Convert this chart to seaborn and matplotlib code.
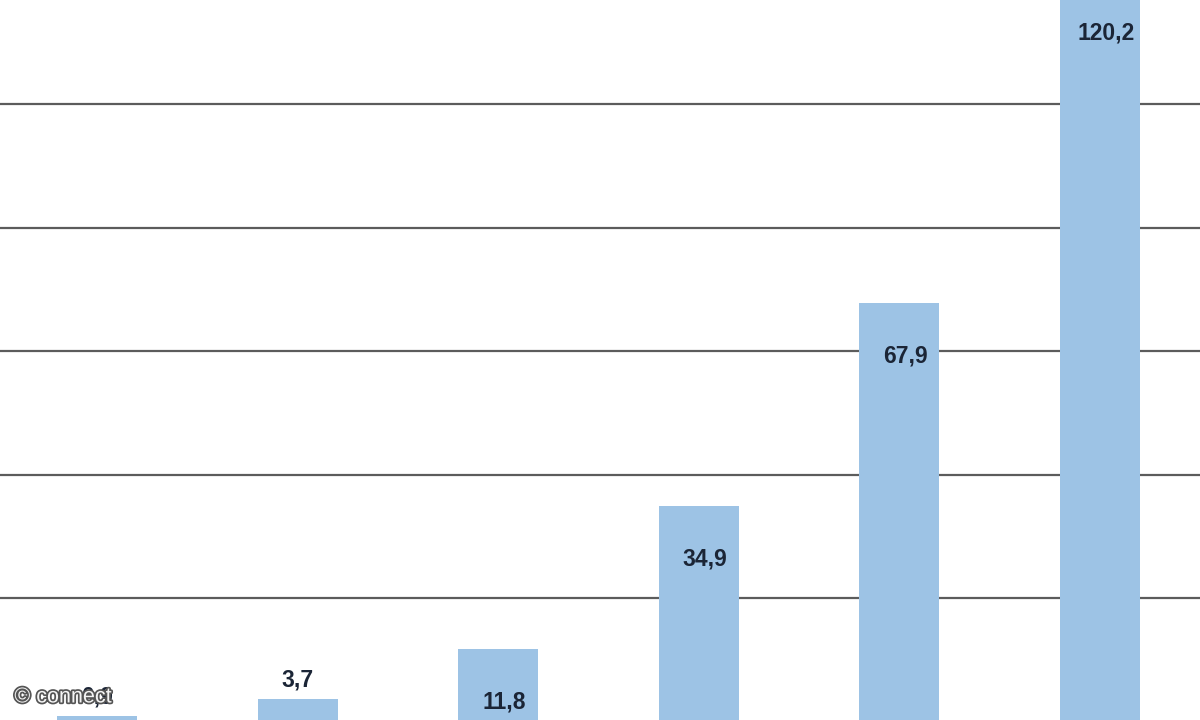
import matplotlib
matplotlib.use("Agg")
import matplotlib.pyplot as plt
import matplotlib.patheffects as pe
import seaborn as sns
import pandas as pd

categories = ["1", "2", "3", "4", "5", "6"]
values = [0.9, 3.7, 11.8, 34.9, 67.9, 120.2]
grid_values = [20, 40, 60, 80, 100]
watermark = "© connect"

bar_color = "#9dc3e5"
label_color = "#1b2536"
grid_color = "#5c5c5c"

sns.set_theme(style="white")
plt.rcParams["font.family"] = ["Liberation Sans", "DejaVu Sans"]

df = pd.DataFrame({"cat": categories, "val": values})

fig = plt.figure(figsize=(12, 7.2), dpi=100)
ax = fig.add_axes([0, 0, 1, 1])

for g in grid_values:
    ax.axhline(g, color=grid_color, lw=1.6, zorder=0)

sns.barplot(data=df, x="cat", y="val", color=bar_color, saturation=1,
            width=0.4, ax=ax, zorder=2, linewidth=0, edgecolor="none")

for i, v in enumerate(values):
    txt = f"{v:.1f}".replace(".", ",")
    if v < 5:
        off = (0, 19)
    else:
        off = (6, -53)
    ax.annotate(txt, (i, v), xytext=off, textcoords="offset pixels",
                ha="center", va="center", fontsize=16.5, fontweight="bold",
                color=label_color, zorder=3, annotation_clip=False)

ax.set_xlim(-0.485, 5.5)
ax.set_ylim(0.3, 116.9)
ax.set_xticks([])
ax.set_yticks([])
ax.set_xlabel("")
ax.set_ylabel("")
for s in ax.spines.values():
    s.set_visible(False)

fig.text(0.012, 0.032, watermark, fontsize=15.5, color="#f4f4f4",
         ha="left", va="center", zorder=5,
         path_effects=[pe.withStroke(linewidth=2.5, foreground="#555555")])

fig.savefig("out.png", dpi=100)
